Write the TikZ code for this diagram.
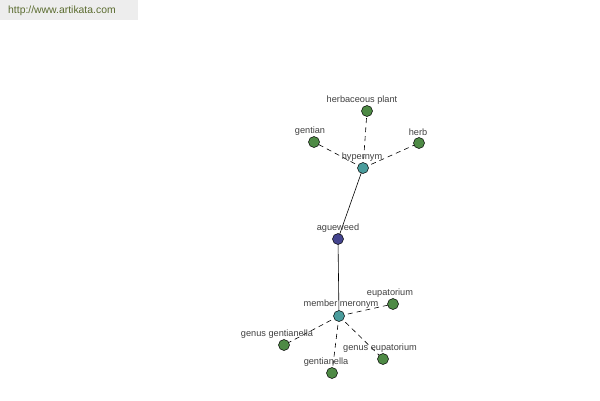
\documentclass[tikz,border=0pt]{standalone}
\usepackage{fontspec}
\setmainfont{Liberation Sans}
\definecolor{leafc}{HTML}{4E8A45}
\definecolor{hubc}{HTML}{4A9C9C}
\definecolor{rootc}{HTML}{44448E}
\definecolor{labc}{HTML}{404040}
\definecolor{bannerc}{HTML}{EDEDED}
\definecolor{urlc}{HTML}{5A6B2E}
\begin{document}
\begin{tikzpicture}[x=1pt,y=-1pt,
  dot/.style={circle,draw=black,line width=0.5pt,minimum size=11pt,inner sep=0pt},
  leaf/.style={dot,fill=leafc},
  hub/.style={dot,fill=hubc},
  rootn/.style={dot,fill=rootc},
  lab/.style={text=labc,font=\fontsize{9.2}{11}\selectfont,inner sep=0pt},
  rel/.style={draw=black,line width=0.6pt},
  weak/.style={draw=black,line width=0.6pt,dash pattern=on 5pt off 4pt}]
\useasboundingbox (0,0) rectangle (600,400);
\fill[bannerc] (0,0) rectangle (138,20);
\node[text=urlc,font=\fontsize{10.4}{12}\selectfont,anchor=west,inner sep=0pt] (url) at (8,11) {http://www.artikata.com};
% nodes
\coordinate (hp) at (367,111);
\coordinate (ge) at (314,142);
\coordinate (hb) at (419,143);
\coordinate (hy) at (363,168);
\coordinate (ag) at (338,239);
\coordinate (mm) at (339,316);
\coordinate (eu) at (393,304);
\coordinate (gg) at (284,345);
\coordinate (geu) at (383,359);
\coordinate (gl) at (332,373);
% edges
\draw[rel] (hy) -- (ag);
\draw[rel] (ag) -- (mm);
\draw[weak] (hy) -- (hp);
\draw[weak] (hy) -- (ge);
\draw[weak] (hy) -- (hb);
\draw[weak] (mm) -- (eu);
\draw[weak] (mm) -- (gg);
\draw[weak] (mm) -- (geu);
\draw[weak] (mm) -- (gl);
% dots
\node[leaf] (nhp) at (hp) {};
\node[leaf] (nge) at (ge) {};
\node[leaf] (nhb) at (hb) {};
\node[hub] (nhy) at (hy) {};
\node[rootn] (nag) at (ag) {};
\node[hub] (nmm) at (mm) {};
\node[leaf] (neu) at (eu) {};
\node[leaf] (ngg) at (gg) {};
\node[leaf] (ngeu) at (geu) {};
\node[leaf] (ngl) at (gl) {};
% labels
\node[lab] (lhp) at (362,100.5) {herbaceous plant};
\node[lab] (lge) at (310,131.5) {gentian};
\node[lab] (lhb) at (418,132.5) {herb};
\node[lab] (lhy) at (362,157.5) {hypernym};
\node[lab] (lag) at (338,228.5) {agueweed};
\node[lab] (lmm) at (341,304.5) {member meronym};
\node[lab] (leu) at (390,293.5) {eupatorium};
\node[lab] (lgg) at (277,334.5) {genus gentianella};
\node[lab] (lgeu) at (380,348.5) {genus eupatorium};
\node[lab] (lgl) at (326,362.5) {gentianella};
\end{tikzpicture}
\end{document}
